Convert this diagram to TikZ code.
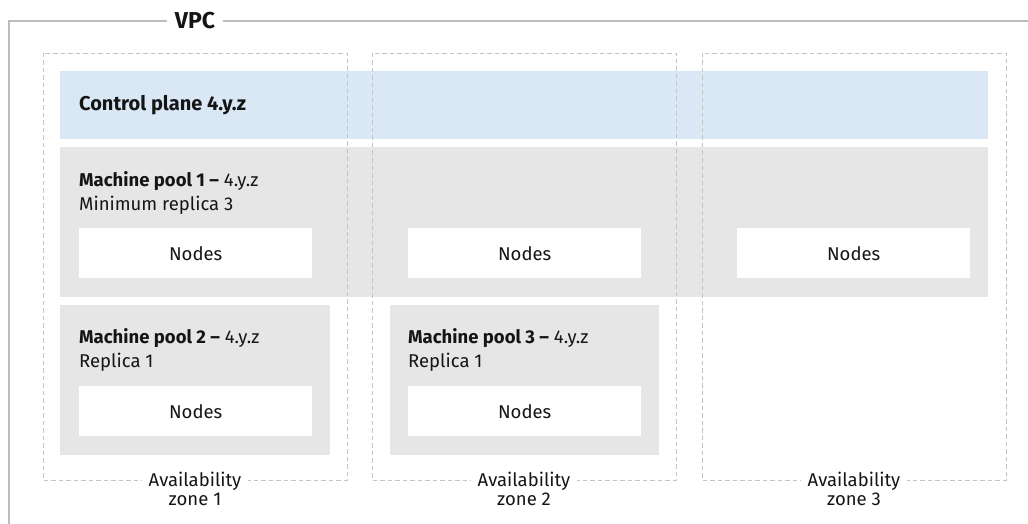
\documentclass[tikz,border=0pt]{standalone}
\usepackage{fontspec}
\setmainfont{Fira Sans}
\usetikzlibrary{positioning}
\definecolor{framec}{HTML}{BDBDBD}
\definecolor{dashc}{HTML}{C4C4C4}
\definecolor{cpc}{HTML}{DAE8F6}
\definecolor{poolc}{HTML}{E6E6E6}
\definecolor{inkc}{HTML}{151515}

\begin{document}
\begin{tikzpicture}[x=1pt, y=-1pt, font=\fontsize{18.5}{20}\selectfont, text=inkc,
    band/.style={anchor=north west, inner sep=0pt},
    nodebox/.style={fill=white, anchor=north west, inner sep=0pt, minimum width=233pt, minimum height=50pt},
    zone/.style={draw=dashc, line width=0.9pt, dash pattern=on 4.5pt off 3pt},
    head/.style={anchor=base west, inner sep=0pt},
    zlabel/.style={anchor=base, fill=white, inner xsep=7pt, inner ysep=2pt}]
  \useasboundingbox (0,0) rectangle (1028,524);
  % VPC frame
  \draw[framec, line width=2.8pt] (9,524) -- (9,21) -- (1028,21);
  \node[fill=white, inner xsep=8pt, font=\bfseries\fontsize{23}{24}\selectfont] (vpc) at (195,21) {VPC};
  % control plane
  \node[band, fill=cpc, minimum width=928pt, minimum height=68pt] (cp) at (60,71) {};
  \node[head, font=\bfseries\fontsize{20}{22}\selectfont] (cptitle) at (79,111) {Control plane 4.y.z};
  % machine pools
  \node[band, fill=poolc, minimum width=928pt, minimum height=150pt] (mp1) at (60,147) {};
  \node[band, fill=poolc, minimum width=270pt, minimum height=150pt] (mp2) at (60,305) {};
  \node[band, fill=poolc, minimum width=269pt, minimum height=150pt] (mp3) at (390,305) {};
  \node[head] (mp1title) at (79,186) {\textbf{Machine pool 1 \textendash} 4.y.z};
  \node[head] (mp1rep) at (79,210) {Minimum replica 3};
  \node[head] (mp2title) at (79,343) {\textbf{Machine pool 2 \textendash} 4.y.z};
  \node[head] (mp2rep) at (79,367) {Replica 1};
  \node[head] (mp3title) at (408,343) {\textbf{Machine pool 3 \textendash} 4.y.z};
  \node[head] (mp3rep) at (408,367) {Replica 1};
  \foreach \x/\n in {79/a, 408/b, 737/c}
    \node[nodebox] (nodes1\n) at (\x,228) {Nodes};
  \node[nodebox] (nodes2) at (79,386) {Nodes};
  \node[nodebox] (nodes3) at (408,386) {Nodes};
  % availability zones
  \foreach \i/\x in {1/43, 2/372, 3/702} {
    \draw[zone] (\x,53) rectangle ++(304,427);
    \node[zlabel] (az\i) at (\x+152,486) {Availability};
    \node[anchor=base, inner sep=0pt] (zn\i) at (\x+152,505) {zone \i};
  }
\end{tikzpicture}
\end{document}
